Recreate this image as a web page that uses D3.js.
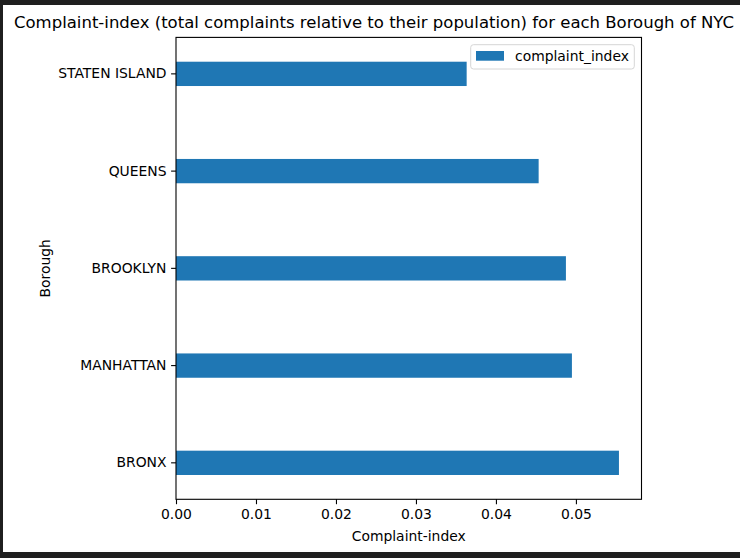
<!DOCTYPE html>
<html>
<head>
<meta charset="utf-8">
<script src="https://cdn.jsdelivr.net/npm/d3@7"></script>
<style>
  body { margin: 0; background: #1f1f1f; }
  svg { display: block; font-family: "DejaVu Sans", sans-serif; }
  .axis path, .axis line { stroke: #000; stroke-width: 1.1px; }
  .axis text { font-size: 13.9px; fill: #000; font-family: "DejaVu Sans", sans-serif; }
</style>
</head>
<body>
<div class="chart"></div>
<script>
// data
const boroughs = ["BRONX", "MANHATTAN", "BROOKLYN", "QUEENS", "STATEN ISLAND"]
const complaintIndex = [0.05538, 0.0495, 0.04875, 0.04534, 0.03634]
const xTicks = [0, 0.01, 0.02, 0.03, 0.04, 0.05]
const xMax = 0.0582

const width = 740, height = 558

const svg = d3.select(".chart").append("svg")
  .attr("width", width)
  .attr("height", height)

// white figure area inside the dark frame
svg.append("rect")
  .attr("x", 3).attr("y", 5)
  .attr("width", width - 3).attr("height", 547)
  .attr("fill", "#fff")

const plot = {left: 176, right: 641.5, top: 37.4, bottom: 499.3}

const xScale = d3.scaleLinear()
  .domain([0, xMax])
  .range([plot.left, plot.right])

const yScale = d3.scaleBand()
  .domain(boroughs)
  .range([plot.bottom, plot.top])
  .paddingInner(0.75)
  .paddingOuter(0.25)

const data = boroughs.map((b, i) => ({borough: b, value: complaintIndex[i]}))

svg.append("g").selectAll("rect").data(data)
  .enter().append("rect")
  .attr("x", xScale(0))
  .attr("y", d => yScale(d.borough))
  .attr("width", d => xScale(d.value) - xScale(0))
  .attr("height", yScale.bandwidth())
  .attr("fill", "#1f77b4")

// spines
svg.append("rect")
  .attr("x", plot.left).attr("y", plot.top)
  .attr("width", plot.right - plot.left).attr("height", plot.bottom - plot.top)
  .attr("fill", "none").attr("stroke", "#000").attr("stroke-width", 1.1)

const xAxis = d3.axisBottom(xScale)
  .tickValues(xTicks)
  .tickFormat(d3.format(".2f"))
  .tickSize(4.9).tickPadding(4.6).tickSizeOuter(0)

svg.append("g")
  .attr("class", "axis x-axis")
  .attr("transform", `translate(0, ${plot.bottom})`)
  .call(xAxis)
  .call(g => g.select(".domain").remove())

const yAxis = d3.axisLeft(yScale)
  .tickSize(4.9).tickPadding(4.6).tickSizeOuter(0)

svg.append("g")
  .attr("class", "axis y-axis")
  .attr("transform", `translate(${plot.left}, 0)`)
  .call(yAxis)
  .call(g => g.select(".domain").remove())

// labels
svg.append("text")
  .attr("x", 14).attr("y", 28.3)
  .attr("font-size", "16.4px")
  .attr("textLength", 720)
  .attr("lengthAdjust", "spacingAndGlyphs")
  .text("Complaint-index (total complaints relative to their population) for each Borough of NYC")

svg.append("text")
  .attr("x", (plot.left + plot.right) / 2).attr("y", 540.5)
  .attr("text-anchor", "middle")
  .attr("font-size", "13.9px")
  .text("Complaint-index")

svg.append("text")
  .attr("transform", `translate(50, ${(plot.top + plot.bottom) / 2}) rotate(-90)`)
  .attr("text-anchor", "middle")
  .attr("font-size", "13.9px")
  .text("Borough")

// legend
const legend = svg.append("g")
legend.append("rect")
  .attr("x", 470.7).attr("y", 44.7)
  .attr("width", 163.6).attr("height", 24.3)
  .attr("rx", 2.8)
  .attr("fill", "#fff").attr("fill-opacity", 0.8)
  .attr("stroke", "#d6d6d6").attr("stroke-width", 1)
legend.append("rect")
  .attr("x", 476).attr("y", 51)
  .attr("width", 28).attr("height", 9.7)
  .attr("fill", "#1f77b4")
legend.append("text")
  .attr("x", 515).attr("y", 60.7)
  .attr("font-size", "13.9px")
  .text("complaint_index")
</script>
</body>
</html>
